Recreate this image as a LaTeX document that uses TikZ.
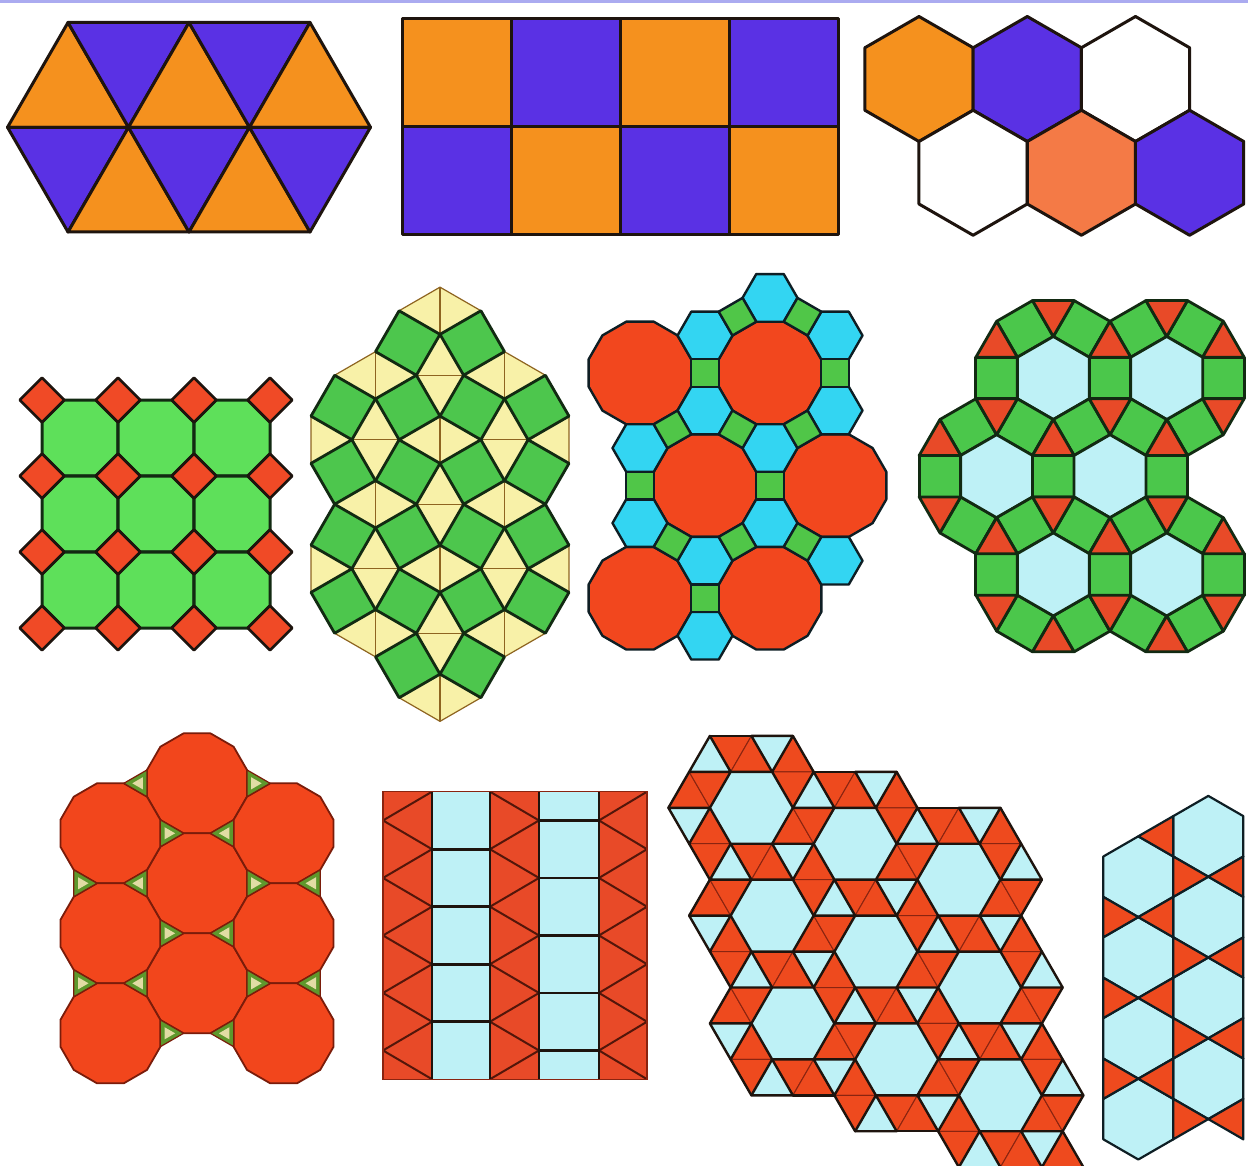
\documentclass[tikz,border=0pt]{standalone}
\usetikzlibrary{calc}
\definecolor{inkdark}{HTML}{1E140E}
\definecolor{orA}{HTML}{F5911E}
\definecolor{puA}{HTML}{5A31E4}
\definecolor{salA}{HTML}{F47A46}
\definecolor{grOct}{HTML}{5EE05A}
\definecolor{redSq}{HTML}{F04A26}
\definecolor{inkgreen}{HTML}{122A12}
\definecolor{grSnub}{HTML}{4DC64D}
\definecolor{yeSnub}{HTML}{F8F1A8}
\definecolor{brSnub}{HTML}{8E6420}
\definecolor{redT}{HTML}{F2471E}
\definecolor{cyT}{HTML}{33D5F2}
\definecolor{grT}{HTML}{50C648}
\definecolor{inknavy}{HTML}{0E1E24}
\definecolor{paleCy}{HTML}{BEF1F6}
\definecolor{grR}{HTML}{4BC74B}
\definecolor{redR}{HTML}{E84A28}
\definecolor{redD}{HTML}{F2461C}
\definecolor{inkred}{HTML}{7A1C0A}
\definecolor{grTri}{HTML}{5E982C}
\definecolor{paleTri}{HTML}{E2DCA4}
\definecolor{redS}{HTML}{EE4A1E}
\definecolor{lineRed}{HTML}{8A2410}
\definecolor{lav}{HTML}{ABABF0}

\newcommand\rpoly[6]{%
  \pgfmathtruncatemacro\rpN{#4-1}%
  \path[#1] ({#2+#5*cos(#6)},{#3+#5*sin(#6)})
    \foreach \rk in {1,...,\rpN}{ -- ({#2+#5*cos(#6+\rk*360/#4)},{#3+#5*sin(#6+\rk*360/#4)}) } -- cycle;%
}

% boundary edge of the snub hexagonal patch
\newcommand\snubedge[6]{%
  \pgfmathsetmacro\seu{((2*(#1)+2*(#3)-(#5))+(2*(#2)+2*(#4)-(#6))/3)/7}%
  \pgfmathsetmacro\sev{(2*(2*(#2)+2*(#4)-(#6))-(2*(#1)+2*(#3)-(#5)))/21}%
  \pgfmathtruncatemacro\sein{(\seu>-0.7)*(\seu<2.7)*(\sev>-0.7)*(\sev<2.7)*(\seu+\sev>-0.8)}%
  \ifnum\sein=0
    \draw[snubbd] ({751.4+41.5*(#1)+20.75*(#2)},{807.8+35.94*(#2)}) -- ({751.4+41.5*(#3)+20.75*(#4)},{807.8+35.94*(#4)});%
  \fi
}

\newcommand\snubtri[7]{%
  \pgfmathtruncatemacro\sai{#2}\pgfmathtruncatemacro\saj{#3}%
  \pgfmathtruncatemacro\sbi{#4}\pgfmathtruncatemacro\sbj{#5}%
  \pgfmathtruncatemacro\sci{#6}\pgfmathtruncatemacro\scj{#7}%
  \pgfmathsetmacro\stu{((\sai+\sbi+\sci)+(\saj+\sbj+\scj)/3)/7}%
  \pgfmathsetmacro\stv{(2*(\saj+\sbj+\scj)-(\sai+\sbi+\sci))/21}%
  \pgfmathtruncatemacro\stin{(\stu>-0.7)*(\stu<2.7)*(\stv>-0.7)*(\stv<2.7)*(\stu+\stv>-0.8)}%
  \ifnum\stin=1
    \pgfmathtruncatemacro\sthv{(mod(\sai-2*\saj+700,7)==0)+(mod(\sbi-2*\sbj+700,7)==0)+(mod(\sci-2*\scj+700,7)==0)}%
    \ifnum\sthv=0
      \pgfmathtruncatemacro\stred{(mod((\sai+\sbi-\sci)-2*(\saj+\sbj-\scj)+700,7)==0)+(mod((\sbi+\sci-\sai)-2*(\sbj+\scj-\saj)+700,7)==0)+(mod((\sci+\sai-\sbi)-2*(\scj+\saj-\sbj)+700,7)==0)}%
      \pgfmathsetmacro\sax{751.4+41.5*\sai+20.75*\saj}\pgfmathsetmacro\say{807.8+35.94*\saj}%
      \pgfmathsetmacro\sbx{751.4+41.5*\sbi+20.75*\sbj}\pgfmathsetmacro\sby{807.8+35.94*\sbj}%
      \pgfmathsetmacro\scx{751.4+41.5*\sci+20.75*\scj}\pgfmathsetmacro\scy{807.8+35.94*\scj}%
      \ifnum#1=1
        \ifnum\stred>0
          \path[snubred] (\sax,\say) -- (\sbx,\sby) -- (\scx,\scy) -- cycle;%
        \fi
      \else
        \ifnum\stred=0
          \path[snubcyan] (\sax,\say) -- (\sbx,\sby) -- (\scx,\scy) -- cycle;%
        \else
          \snubedge{\sai}{\saj}{\sbi}{\sbj}{\sci}{\scj}%
          \snubedge{\sbi}{\sbj}{\sci}{\scj}{\sai}{\saj}%
          \snubedge{\sci}{\scj}{\sai}{\saj}{\sbi}{\sbj}%
        \fi
      \fi
    \fi
  \fi
}

\tikzset{
  edgeA/.style={draw=inkdark, line width=3pt, line join=round},
  octFill/.style={fill=grOct, draw=inkgreen, line width=3pt, line join=round},
  dmFill/.style={fill=redSq, draw=inkdark, line width=2.6pt, line join=round},
  snubRh/.style={fill=yeSnub, draw=brSnub, line width=1.2pt, line join=round},
  snubSplit/.style={draw=brSnub, line width=1.4pt},
  snubSq/.style={fill=grSnub, draw=inkgreen, line width=2.8pt, line join=round},
  tsixDod/.style={fill=redT, draw=inknavy, line width=2.4pt, line join=round},
  tsixHex/.style={fill=cyT, draw=inknavy, line width=2.4pt, line join=round},
  tsixSq/.style={fill=grT, draw=inknavy, line width=2.4pt, line join=round},
  tsevHex/.style={fill=paleCy, draw=inkgreen, line width=2.8pt, line join=round},
  tsevSq/.style={fill=grR, draw=inkgreen, line width=2.8pt, line join=round},
  tsevTri/.style={fill=redR, draw=inkgreen, line width=2.8pt, line join=round},
  teiDod/.style={fill=redD, draw=inkred, line width=1.8pt, line join=round},
  teiTri/.style={fill=grTri, draw=inkred, line width=1.2pt, line join=round},
  teiIn/.style={fill=paleTri},
  tninZig/.style={draw=lineRed!60!black, line width=2pt, line join=round},
  tninBar/.style={draw=inkdark, line width=2.6pt},
  snubred/.style={fill=redS, draw=lineRed, line width=1pt, line join=round},
  snubcyan/.style={fill=paleCy, draw=inkdark, line width=2.4pt, line join=round},
  snubhex/.style={fill=paleCy, draw=inkdark, line width=2.4pt, line join=round},
  snubbd/.style={draw=inkdark, line width=2.4pt, line cap=round},
  telHex/.style={fill=paleCy, draw=inknavy, line width=2.2pt, line join=round},
  telTri/.style={fill=redS, draw=inknavy, line width=2.2pt, line join=round}
}

\begin{document}
\begin{tikzpicture}[x=1pt,y=-1pt]
\useasboundingbox[fill=white] (0,0) rectangle (1248,1166);
\fill[lav] (0,0) rectangle (1248,3);

% ---------- 1: triangles ----------
\coordinate (t0) at (68,22.5); \coordinate (t1) at (189,22.5); \coordinate (t2) at (310,22.5);
\coordinate (m0) at (7.5,127.3); \coordinate (m1) at (128.5,127.3); \coordinate (m2) at (249.5,127.3); \coordinate (m3) at (370.5,127.3);
\coordinate (b0) at (68,232); \coordinate (b1) at (189,232); \coordinate (b2) at (310,232);
\path[edgeA, fill=orA] (m0) -- (m1) -- (t0) -- cycle;
\path[edgeA, fill=puA] (t0) -- (t1) -- (m1) -- cycle;
\path[edgeA, fill=orA] (m1) -- (m2) -- (t1) -- cycle;
\path[edgeA, fill=puA] (t1) -- (t2) -- (m2) -- cycle;
\path[edgeA, fill=orA] (m2) -- (m3) -- (t2) -- cycle;
\path[edgeA, fill=puA] (m0) -- (m1) -- (b0) -- cycle;
\path[edgeA, fill=orA] (b0) -- (b1) -- (m1) -- cycle;
\path[edgeA, fill=puA] (m1) -- (m2) -- (b1) -- cycle;
\path[edgeA, fill=orA] (b1) -- (b2) -- (m2) -- cycle;
\path[edgeA, fill=puA] (m2) -- (m3) -- (b2) -- cycle;

% ---------- 2: squares ----------
\foreach \qx/\qy/\qc in {402/19/orA, 511/19/puA, 620/19/orA, 729/19/puA, 402/127/puA, 511/127/orA, 620/127/puA, 729/127/orA}{
  \path[edgeA, fill=\qc] (\qx,\qy) rectangle ++(109,108);
}

% ---------- 3: hexagons ----------
\foreach \hx/\hy/\hc in {919/79/orA, 1027.3/79/puA, 1135.5/79/white, 973.1/172.75/white, 1081.4/172.75/salA, 1189.6/172.75/puA}{
  \rpoly{edgeA, fill=\hc}{\hx}{\hy}{6}{62.5}{30}
}

% ---------- 4: octagons and squares ----------
\foreach \ox in {80,156,232}{\foreach \oy in {438,514,590}{\rpoly{octFill}{\ox}{\oy}{8}{41.13}{22.5}}}
\foreach \qdx in {42,118,194,270}{\foreach \qdy in {400,476,552,628}{\rpoly{dmFill}{\qdx}{\qdy}{4}{22.26}{0}}}

% ---------- 5: snub square ----------
\foreach \gx/\gy in {1.5/-0.5, 0.5/0.5, 1.5/0.5, 2.5/0.5, 0.5/1.5, 1.5/1.5, 2.5/1.5, 0.5/2.5, 1.5/2.5, 2.5/2.5, 0.5/3.5, 1.5/3.5, 2.5/3.5, 0.5/4.5, 1.5/4.5, 2.5/4.5, 1.5/5.5}{
  \pgfmathsetmacro\px{440+(\gx-1.5)*64.5}
  \pgfmathsetmacro\py{343+\gy*64.5}
  \pgfmathtruncatemacro\spar{mod(round(\gx+\gy+10),2)}
  \ifnum\spar=0
    \path[snubRh] (\px,{\py-40.88}) -- ({\px+23.6},\py) -- (\px,{\py+40.88}) -- ({\px-23.6},\py) -- cycle;
    \draw[snubSplit] ({\px-23.6},\py) -- ({\px+23.6},\py);
  \else
    \path[snubRh] ({\px-40.88},\py) -- (\px,{\py-23.6}) -- ({\px+40.88},\py) -- (\px,{\py+23.6}) -- cycle;
    \draw[snubSplit] (\px,{\py-23.6}) -- (\px,{\py+23.6});
  \fi
}
\foreach \gx/\gy/\sd in {-0.5/1.5/1, 3.5/1.5/-1, -0.5/3.5/1, 3.5/3.5/-1}{
  \pgfmathsetmacro\px{440+(\gx-1.5)*64.5}
  \pgfmathsetmacro\py{343+\gy*64.5}
  \path[snubRh] (\px,{\py-23.6}) -- ({\px+\sd*40.88},\py) -- (\px,{\py+23.6}) -- cycle;
}
\foreach \sc/\sr in {1/0,2/0,0/1,1/1,2/1,3/1,0/2,1/2,2/2,3/2,0/3,1/3,2/3,3/3,0/4,1/4,2/4,3/4,1/5,2/5}{
  \pgfmathsetmacro\px{440+(\sc-1.5)*64.5}
  \pgfmathsetmacro\py{343+\sr*64.5}
  \pgfmathtruncatemacro\spar{mod(\sc+\sr,2)}
  \ifnum\spar=1 \def\sa{75}\else\def\sa{15}\fi
  \rpoly{snubSq}{\px}{\py}{4}{33.38}{\sa}
}

% ---------- 6: truncated trihexagonal ----------
\foreach \qx/\qy in {640/373, 770/373, 705/485.6, 835/485.6, 640/598.2, 770/598.2}{
  \rpoly{tsixDod}{\qx}{\qy}{12}{53.13}{15}
}
\foreach \qx/\qy in {770/297.9, 705/335.5, 835/335.5, 705/410.5, 835/410.5, 640/448.1, 770/448.1, 640/523.1, 770/523.1, 705/560.7, 835/560.7, 705/635.7}{
  \rpoly{tsixHex}{\qx}{\qy}{6}{27.5}{0}
}
\foreach \qx/\qy/\qa in {737.5/316.7/60, 802.5/316.7/120, 705/373/0, 835/373/0, 672.5/429.3/60, 737.5/429.3/120, 802.5/429.3/60, 640/485.6/0, 770/485.6/0, 672.5/541.9/120, 737.5/541.9/60, 802.5/541.9/120, 705/598.2/0}{
  \rpoly{tsixSq}{\qx}{\qy}{4}{19.45}{\qa+45}
}

% ---------- 7: rhombitrihexagonal ----------
\foreach \hx/\hy in {1053.3/378, 1166.7/378, 996.6/476.2, 1110/476.2, 1053.3/574.4, 1166.7/574.4}{
  \foreach \ph in {0,60,...,300}{\rpoly{tsevSq}{\hx+56.69*cos(\ph)}{\hy+56.69*sin(\ph)}{4}{29.35}{\ph+45}}
  \foreach \ph in {30,90,...,330}{\rpoly{tsevTri}{\hx+65.46*cos(\ph)}{\hy+65.46*sin(\ph)}{3}{23.96}{\ph+60}}
  \rpoly{tsevHex}{\hx}{\hy}{6}{41.5}{30}
}

% ---------- 8: truncated hexagonal ----------
\foreach \qx/\qy in {197/783.3, 197/883.3, 197/983.3, 110.4/833.3, 110.4/933.3, 110.4/1033.3, 283.6/833.3, 283.6/933.3, 283.6/1033.3}{
  \rpoly{teiDod}{\qx}{\qy}{12}{51.76}{15}
}
\foreach \qx/\qy/\qa in {254.7/783.3/0, 254.7/883.3/0, 254.7/983.3/0, 168.1/833.3/0, 168.1/933.3/0, 168.1/1033.3/0, 81.5/883.3/0, 81.5/983.3/0,
  139.3/783.3/60, 139.3/883.3/60, 139.3/983.3/60, 225.9/833.3/60, 225.9/933.3/60, 225.9/1033.3/60, 312.5/883.3/60, 312.5/983.3/60}{
  \rpoly{teiTri}{\qx}{\qy}{3}{15.47}{\qa}
  \rpoly{teiIn}{\qx}{\qy}{3}{7}{\qa}
}

% ---------- 9: elongated triangular ----------
\fill[redR] (383,791.7) rectangle (432,1079.2);
\fill[paleCy] (432,791.7) rectangle (490,1079.2);
\fill[redR] (490,791.7) rectangle (539,1079.2);
\fill[paleCy] (539,791.7) rectangle (599,1079.2);
\fill[redR] (599,791.7) rectangle (647,1079.2);
\begin{scope}
  \clip (383,791.7) rectangle (432,1079.2);
  \draw[tninZig] (432,734.2) \foreach \k in {-1,...,5}{ -- (383,{791.7+(\k+0.5)*57.5}) -- (432,{791.7+(\k+1)*57.5}) };
\end{scope}
\begin{scope}
  \clip (490,791.7) rectangle (539,1079.2);
  \draw[tninZig] (490,734.2) \foreach \k in {-1,...,5}{ -- (539,{791.7+(\k+0.5)*57.5}) -- (490,{791.7+(\k+1)*57.5}) };
\end{scope}
\begin{scope}
  \clip (599,791.7) rectangle (647,1079.2);
  \draw[tninZig] (647,734.2) \foreach \k in {-1,...,5}{ -- (599,{791.7+(\k+0.5)*57.5}) -- (647,{791.7+(\k+1)*57.5}) };
\end{scope}
\foreach \k in {1,...,4}{\draw[tninBar] (432,{791.7+\k*57.5}) -- (490,{791.7+\k*57.5});}
\foreach \k in {0,...,4}{\draw[tninBar] (539,{791.7+(\k+0.5)*57.5}) -- (599,{791.7+(\k+0.5)*57.5});}
\foreach \qx in {432,490,539,599}{\draw[tninBar] (\qx,791.7) -- (\qx,1079.2);}
\draw[draw=lineRed, line width=1.2pt] (383,791.7) rectangle (647,1079.2);

% ---------- 10: snub hexagonal ----------
\begin{scope}
  \clip (0,0) rectangle (1248,1166);
  \foreach \ti in {-5,...,7}{\foreach \tj in {-3,...,11}{
    \snubtri{1}{\ti}{\tj}{\ti+1}{\tj}{\ti}{\tj+1}
    \snubtri{1}{\ti+1}{\tj}{\ti}{\tj+1}{\ti+1}{\tj+1}
  }}
  \foreach \ti in {-5,...,7}{\foreach \tj in {-3,...,11}{
    \snubtri{2}{\ti}{\tj}{\ti+1}{\tj}{\ti}{\tj+1}
    \snubtri{2}{\ti+1}{\tj}{\ti}{\tj+1}{\ti+1}{\tj+1}
  }}
  \foreach \hu in {0,1,2}{\foreach \hv in {0,1,2}{
    \rpoly{snubhex}{751.4+103.75*\hu+20.75*\hv}{807.8+35.94*\hu+107.82*\hv}{6}{41.5}{0}
  }}
\end{scope}

% ---------- 11: trihexagonal ----------
\foreach \k in {0,...,3}{
  \rpoly{telHex}{1138.3}{876.7+80.8*\k}{6}{40.4}{30}
  \rpoly{telHex}{1208.3}{836.3+80.8*\k}{6}{40.4}{30}
}
\path[telTri] (1173.3,816.1) -- (1138.3,836.3) -- (1173.3,856.5) -- cycle;
\foreach \k in {0,...,3}{
  \pgfmathsetmacro\my{876.7+80.8*\k}
  \path[telTri] (1173.3,{\my-20.2}) -- (1173.3,{\my+20.2}) -- (1208.3,\my) -- cycle;
  \path[telTri] (1243.3,{\my-20.2}) -- (1243.3,{\my+20.2}) -- (1208.3,\my) -- cycle;
}
\foreach \k in {0,...,2}{
  \pgfmathsetmacro\my{917.1+80.8*\k}
  \path[telTri] (1103.3,{\my-20.2}) -- (1103.3,{\my+20.2}) -- (1138.3,\my) -- cycle;
  \path[telTri] (1173.3,{\my-20.2}) -- (1173.3,{\my+20.2}) -- (1138.3,\my) -- cycle;
}
\end{tikzpicture}
\end{document}
